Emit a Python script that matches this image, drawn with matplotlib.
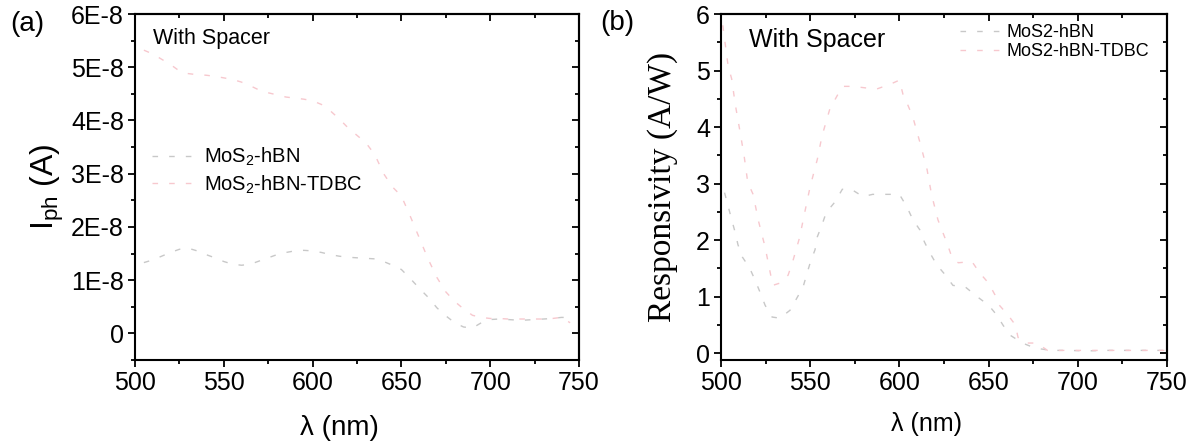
import numpy as np
import matplotlib
matplotlib.use("Agg")
import matplotlib.pyplot as plt
from matplotlib.ticker import MultipleLocator, FuncFormatter, AutoMinorLocator

plt.rcParams['font.family'] = ['Liberation Sans', 'DejaVu Sans']
plt.rcParams['mathtext.fontset'] = 'custom'
plt.rcParams['mathtext.rm'] = 'Liberation Sans'
plt.rcParams['mathtext.it'] = 'Liberation Sans'
plt.rcParams['lines.scale_dashes'] = False

#------------------------------------------------ Photocurrent data (a) ------------------------------------------------
wl_a = [505, 510, 515, 520, 525, 530, 535, 540, 545, 550, 555, 560, 565, 570, 575, 580, 585, 590, 595, 600,
        605, 610, 615, 620, 625, 630, 635, 640, 645, 650, 655, 660, 665, 670, 675, 680, 685, 690, 695, 700,
        705, 710, 715, 720, 725, 730, 735, 740, 745]
iph_hbn = [1.33, 1.38, 1.45, 1.52, 1.58, 1.60, 1.55, 1.48, 1.42, 1.35, 1.30, 1.28, 1.30, 1.36, 1.42, 1.48, 1.52,
           1.55, 1.56, 1.55, 1.52, 1.48, 1.45, 1.43, 1.42, 1.41, 1.40, 1.35, 1.28, 1.20, 1.03, 0.85, 0.68, 0.48,
           0.33, 0.20, 0.12, 0.10, 0.20, 0.26, 0.27, 0.26, 0.25, 0.25, 0.26, 0.27, 0.28, 0.30, 0.30]
iph_tdbc = [5.32, 5.25, 5.15, 5.05, 4.93, 4.88, 4.86, 4.85, 4.83, 4.80, 4.77, 4.72, 4.65, 4.57, 4.52, 4.48, 4.44,
            4.42, 4.40, 4.37, 4.30, 4.18, 4.03, 3.86, 3.72, 3.58, 3.36, 3.00, 2.75, 2.58, 2.20, 1.80, 1.40, 1.05,
            0.78, 0.60, 0.46, 0.34, 0.30, 0.28, 0.28, 0.27, 0.27, 0.27, 0.27, 0.27, 0.28, 0.30, 0.20]
iph_hbn = np.array(iph_hbn) * 1e-8
iph_tdbc = np.array(iph_tdbc) * 1e-8

#------------------------------------------------ Responsivity data (b) ------------------------------------------------
wl_b_hbn = [502, 504, 506, 508, 509.5, 512, 516, 519, 522, 524.7, 528.6, 533, 538.7, 542.6, 546, 548, 550, 552.7,
            554, 556.6, 559, 564, 568, 573, 579.6, 585, 593, 600, 604, 607.6, 611.5, 614, 617, 621, 625.6, 630,
            637, 644, 650, 654.7, 658, 662, 669, 676, 685, 695, 705, 715, 725, 735, 745, 750]
resp_hbn = [2.84, 2.60, 2.36, 2.13, 1.92, 1.70, 1.51, 1.30, 1.07, 0.85, 0.64, 0.62, 0.76, 0.98, 1.17, 1.39, 1.60,
            1.83, 2.06, 2.27, 2.49, 2.68, 2.90, 2.90, 2.77, 2.81, 2.81, 2.81, 2.60, 2.36, 2.18, 1.97, 1.78, 1.56,
            1.39, 1.20, 1.17, 0.99, 0.85, 0.67, 0.50, 0.32, 0.18, 0.09, 0.05, 0.05, 0.04, 0.05, 0.05, 0.05, 0.05,
            0.05]
wl_b_tdbc = [501, 504, 506, 508, 510.6, 513, 515, 518, 521, 524.7, 527.5, 529, 533, 537.6, 540, 544, 547, 550, 554,
             556.6, 561, 568, 574, 587, 595, 600, 602, 605, 607.6, 611.5, 615.5, 618, 621.6, 627, 629.5, 633,
             640.7, 645, 650, 653.6, 656, 661, 665, 666.5, 670, 677, 683, 690, 700, 710, 720, 730, 740, 750]
resp_tdbc = [5.80, 5.08, 4.85, 4.40, 3.93, 3.48, 3.02, 2.81, 2.34, 1.88, 1.44, 1.20, 1.24, 1.38, 1.60, 2.04, 2.50,
             2.95, 3.43, 3.84, 4.32, 4.72, 4.72, 4.67, 4.76, 4.83, 4.58, 4.37, 4.17, 3.73, 3.25, 2.81, 2.36, 1.92,
             1.69, 1.60, 1.62, 1.42, 1.24, 1.03, 0.85, 0.67, 0.50, 0.28, 0.18, 0.18, 0.05, 0.05, 0.05, 0.05, 0.05,
             0.05, 0.05, 0.05]

GRAY = '#c8c8c8'
PINK = '#f7c8ce'
DASH = (4, 8)


def style_axes(ax, tick_size):
    for side in ['left', 'right', 'top', 'bottom']:
        ax.spines[side].set_linewidth(1.5)
    ax.tick_params(which='both', direction='out', width=1.3, labelsize=tick_size, pad=3)
    ax.tick_params(which='major', length=5)
    ax.tick_params(which='minor', length=3)
    # mirrored ticks on top and right point inward
    sec_x = ax.secondary_xaxis('top')
    sec_x.tick_params(which='both', direction='in', width=1.3, labeltop=False)
    sec_x.tick_params(which='major', length=5)
    sec_x.tick_params(which='minor', length=3)
    sec_x.xaxis.set_minor_locator(AutoMinorLocator(2))
    sec_x.spines['top'].set_linewidth(1.5)
    sec_y = ax.secondary_yaxis('right')
    sec_y.tick_params(which='both', direction='in', width=1.3, labelright=False)
    sec_y.tick_params(which='major', length=5)
    sec_y.tick_params(which='minor', length=3)
    sec_y.yaxis.set_minor_locator(AutoMinorLocator(2))
    sec_y.spines['right'].set_linewidth(1.5)
    return sec_x, sec_y


fig = plt.figure(figsize=(11.97, 4.45), dpi=100)

#---------------------------------------------------- Panel (a) --------------------------------------------------------
ax1 = fig.add_axes([135 / 1197, 85 / 445, 444 / 1197, 346 / 445])
ax1.plot(wl_a, iph_hbn, color=GRAY, lw=1.0, dashes=DASH, label=r'MoS$_2$-hBN')
ax1.plot(wl_a, iph_tdbc, color=PINK, lw=1.0, dashes=DASH, label=r'MoS$_2$-hBN-TDBC')
ax1.set_xlim(500, 750)
ax1.set_ylim(-0.5e-8, 6e-8)
ax1.xaxis.set_major_locator(MultipleLocator(50))
ax1.xaxis.set_minor_locator(AutoMinorLocator(2))
ax1.yaxis.set_major_locator(MultipleLocator(1e-8))
ax1.yaxis.set_minor_locator(AutoMinorLocator(2))
ax1.yaxis.set_major_formatter(FuncFormatter(lambda v, p: '0' if abs(v) < 1e-12 else f'{round(v * 1e8):d}E-8'))
sx, sy = style_axes(ax1, 18)
sx.xaxis.set_major_locator(MultipleLocator(50))
sy.yaxis.set_major_locator(MultipleLocator(1e-8))
ax1.set_xlabel(r'λ (nm)', fontsize=20)
ax1.xaxis.set_label_coords(0.46, -0.16)
ax1.set_ylabel(r'I$_{\mathregular{ph}}$ (A)', fontsize=23)
ax1.yaxis.set_label_coords(-0.155, 0.5)
ax1.text(0.04, 0.93, 'With Spacer', transform=ax1.transAxes, fontsize=15.5, va='center', ha='left')
ax1.legend(loc='center left', bbox_to_anchor=(0.038, 0.547), frameon=False, fontsize=14.5,
           handlelength=2.2, handletextpad=0.4, labelspacing=0.25, borderpad=0, borderaxespad=0)
fig.text(10 / 1197, 1 - 24 / 445, '(a)', fontsize=20, va='center', ha='left')

#---------------------------------------------------- Panel (b) --------------------------------------------------------
ax2 = fig.add_axes([721 / 1197, 85 / 445, 446 / 1197, 346 / 445])
ax2.plot(wl_b_hbn, resp_hbn, color=GRAY, lw=1.0, dashes=DASH, label='MoS2-hBN')
ax2.plot(wl_b_tdbc, resp_tdbc, color=PINK, lw=1.0, dashes=DASH, label='MoS2-hBN-TDBC')
ax2.set_xlim(500, 750)
ax2.set_ylim(-0.12, 6)
ax2.xaxis.set_major_locator(MultipleLocator(50))
ax2.xaxis.set_minor_locator(AutoMinorLocator(2))
ax2.yaxis.set_major_locator(MultipleLocator(1))
ax2.yaxis.set_minor_locator(AutoMinorLocator(2))
sx, sy = style_axes(ax2, 18)
sx.xaxis.set_major_locator(MultipleLocator(50))
sy.yaxis.set_major_locator(MultipleLocator(1))
ax2.set_xlabel(r'λ (nm)', fontsize=18)
ax2.xaxis.set_label_coords(0.46, -0.15)
ax2.set_ylabel('Responsivity (A/W)', fontsize=24, family='Liberation Serif')
ax2.yaxis.set_label_coords(-0.097, 0.5)
ax2.text(0.063, 0.925, 'With Spacer', transform=ax2.transAxes, fontsize=18, va='center', ha='left')
ax2.legend(loc='center left', bbox_to_anchor=(0.535, 0.919), frameon=False, fontsize=13,
           handlelength=2.2, handletextpad=0.4, labelspacing=0.1, borderpad=0, borderaxespad=0)
fig.text(600 / 1197, 1 - 23 / 445, '(b)', fontsize=20, va='center', ha='left')

fig.savefig('out.png', dpi=100)
